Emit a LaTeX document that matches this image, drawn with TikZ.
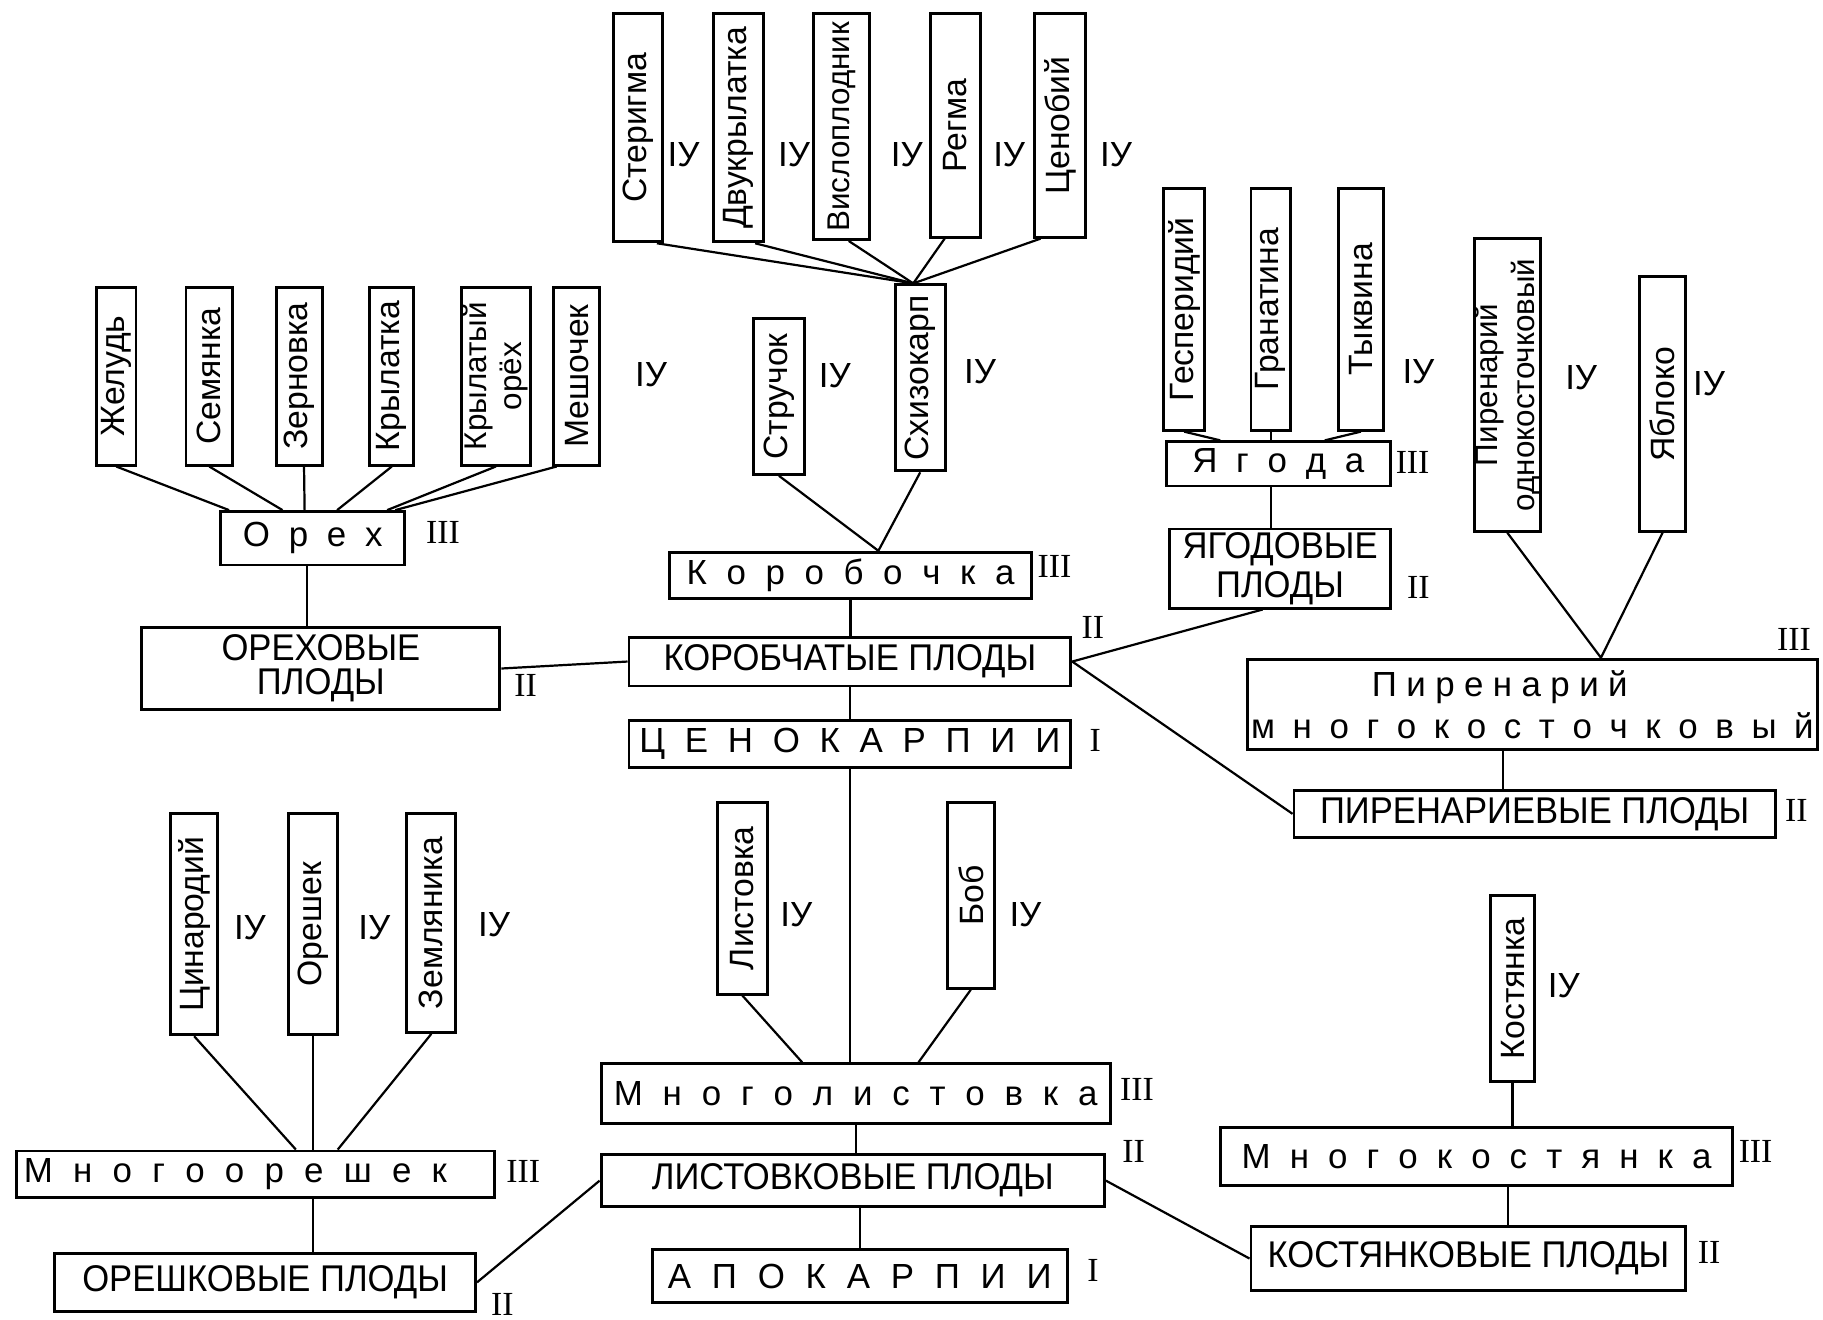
\documentclass[tikz,border=0pt]{standalone}
\usepackage{fontspec}
\setmainfont{Liberation Sans}
\newfontfamily\capsfont[FakeStretch=0.93]{Liberation Sans}
\newfontfamily\numfont{Liberation Serif}
\usetikzlibrary{calc}

% разрядка слова на заданную ширину
\newcommand\spreadword[2]{\makebox[#1]{\spreadfirst#2\relax}}
\def\spreadfirst#1{\ifx#1\relax\else#1\expandafter\spreadnext\fi}
\def\spreadnext#1{\ifx#1\relax\else\hfill#1\expandafter\spreadnext\fi}

\tikzset{
  box/.style 2 args={draw, line width=1.25pt, inner sep=0pt, minimum width=#1*0.5pt, minimum height=#2*0.5pt},
  vbox/.style 2 args={box={#1}{#2}, font=\fontsize{14.5}{14}\selectfont},
  hbox/.style 2 args={box={#1}{#2}, align=center, font=\fontsize{15}{17}\selectfont},
  capsbox/.style 2 args={box={#1}{#2}, align=center, font=\capsfont\fontsize{16}{17}\selectfont},
  levelnum/.style={inner sep=0pt, font=\numfont\fontsize{14.5}{14}\selectfont},
  ivnum/.style={inner sep=0pt, font=\fontsize{15}{15}\selectfont},
}

\begin{document}
\begin{tikzpicture}[x=0.5pt, y=-0.5pt, line width=0.95pt]
  \useasboundingbox[fill=white] (0,0) rectangle (1568,1135);

  % Ореховые плоды
  \node[vbox={34}{153}] (zhelud) at (100,323.5) {\rotatebox{90}{Желудь}};
  \node[vbox={40}{153}] (semyanka) at (180,323.5) {\rotatebox{90}{Семянка}};
  \node[vbox={39}{153}] (zernovka) at (257.5,323.5) {\rotatebox{90}{Зерновка}};
  \node[vbox={38}{153}] (krylatka) at (337,323.5) {\rotatebox{90}{Крылатка}};
  \node[vbox={59}{153}, font=\fontsize{13.5}{14}\selectfont] (krylor) at (426.5,323.5) {\rotatebox{90}{\shortstack{Крылатый\\орёх}}};
  \node[vbox={40}{153}] (meshok) at (496,323.5) {\rotatebox{90}{Мешочек}};
  \node[hbox={158}{46}] (oreh) at (269,463) {\spreadword{60pt}{Орех}};
  \node[capsbox={308}{70}, font=\capsfont\fontsize{16}{14.5}\selectfont] (orehovye) at (276,575) {ОРЕХОВЫЕ\\ПЛОДЫ};

  \draw (zhelud.south) -- ($(oreh.north)+(-72,0)$);
  \draw (semyanka.south) -- ($(oreh.north)+(-26,0)$);
  \draw ($(zernovka.south)+(4,0)$) -- ($(oreh.north)+(-7,0)$);
  \draw (krylatka.south) -- ($(oreh.north)+(21,0)$);
  \draw (krylor.south) -- ($(oreh.north)+(64,0)$);
  \draw ($(meshok.south west)+(4,0)$) -- ($(oreh.north)+(71,0)$);
  \coordinate (orehbot) at ($(oreh.south)+(-5,0)$);
  \draw (orehbot) -- (orehbot |- orehovye.north);

  % Коробчатые плоды
  \node[vbox={42}{196}] (ster) at (549,110) {\rotatebox{90}{Стеригма}};
  \node[vbox={43}{196}] (dvukr) at (635.5,110) {\rotatebox{90}{Двукрылатка}};
  \node[vbox={48}{194}, font=\fontsize{13.5}{14}\selectfont] (vislo) at (724,109) {\rotatebox{90}{Вислоплодник}};
  \node[vbox={43}{192}] (regma) at (821.5,108) {\rotatebox{90}{Регма}};
  \node[vbox={44}{192}] (cenob) at (912,108) {\rotatebox{90}{Ценобий}};
  \node[vbox={44}{134}] (struchok) at (670,341) {\rotatebox{90}{Стручок}};
  \node[vbox={43}{160}] (schizo) at (791.5,325) {\rotatebox{90}{Схизокарп}};
  \node[hbox={311}{40}] (korob) at (731.5,495) {\spreadword{141pt}{Коробочка}};
  \node[capsbox={380}{42}] (korobch) at (731,569) {КОРОБЧАТЫЕ ПЛОДЫ};
  \node[hbox={380}{40}] (cenokarp) at (731,640) {\spreadword{181pt}{ЦЕНОКАРПИИ}};

  \coordinate (schtop) at ($(schizo.north)+(-6,0)$);
  \draw ($(ster.south)+(16,0)$) -- (schtop);
  \draw ($(dvukr.south)+(14,0)$) -- (schtop);
  \draw ($(vislo.south)+(6,0)$) -- (schtop);
  \draw ($(regma.south)+(-9,0)$) -- (schtop);
  \draw ($(cenob.south)+(-17,0)$) -- (schtop);
  \draw (struchok.south) -- ($(korob.north)+(24,0)$);
  \draw (schizo.south) -- ($(korob.north)+(24,0)$);
  \draw (korob.south) -- (korob.south |- korobch.north);
  \draw (korobch.south) -- (korobch.south |- cenokarp.north);
  \draw (orehovye.east) -- (korobch.west);

  % Ягодовые плоды
  \node[vbox={35}{208}] (gesper) at (1018.5,266) {\rotatebox{90}{Гесперидий}};
  \node[vbox={34}{208}] (granat) at (1093,266) {\rotatebox{90}{Гранатина}};
  \node[vbox={39}{208}] (tykv) at (1170.5,266) {\rotatebox{90}{Тыквина}};
  \node[hbox={193}{38}] (yagoda) at (1099.5,399) {\spreadword{74pt}{Ягода}};
  \node[capsbox={190}{68}] (yagodovye) at (1101,489) {ЯГОДОВЫЕ\\ПЛОДЫ};

  \draw (gesper.south) -- ($(yagoda.north)+(-50,0)$);
  \draw (granat.south) -- (granat.south |- yagoda.north);
  \draw (tykv.south) -- ($(yagoda.north)+(40,0)$);
  \coordinate (yagodabot) at ($(yagoda.south)+(-6,0)$);
  \draw (yagodabot) -- (yagodabot |- yagodovye.north);
  \draw (korobch.east) -- ($(yagodovye.south)+(-15,0)$);

  % Пиренариевые плоды
  \node[vbox={57}{252}, font=\fontsize{13.5}{14}\selectfont] (pirodno) at (1296.5,331) {\rotatebox{90}{\shortstack{Пиренарий\\однокосточковый}}};
  \node[vbox={40}{219}] (yabloko) at (1430,347.5) {\rotatebox{90}{Яблоко}};
  \node[hbox={490}{78}, font=\fontsize{15}{18}\selectfont] (pirmnogo) at (1318,606)
    {\spreadword{110pt}{Пиренарий}\hspace*{28pt}\\\spreadword{242pt}{многокосточковый}};
  \node[capsbox={414}{40}] (pirenar) at (1320,700) {ПИРЕНАРИЕВЫЕ ПЛОДЫ};

  \draw (pirodno.south) -- ($(pirmnogo.north)+(59,0)$) -- (yabloko.south);
  \coordinate (pirbot) at ($(pirmnogo.south)+(-25,0)$);
  \draw (pirbot) -- (pirbot |- pirenar.north);
  \draw (korobch.east) -- (pirenar.west);

  % Орешковые плоды
  \node[vbox={40}{190}] (cinar) at (167,795) {\rotatebox{90}{Цинародий}};
  \node[vbox={42}{190}] (oreshek) at (269,795) {\rotatebox{90}{Орешек}};
  \node[vbox={42}{188}] (zemlyan) at (371,794) {\rotatebox{90}{Земляника}};
  \node[hbox={411}{40}] (mnogoor) at (219.5,1010) {\spreadword{182pt}{Многоорешек}\hspace*{17pt}};
  \node[capsbox={362}{50}] (oreshkovye) at (228,1103) {ОРЕШКОВЫЕ ПЛОДЫ};

  \draw (cinar.south) -- ($(mnogoor.north)+(35,0)$);
  \draw (oreshek.south) -- (oreshek.south |- mnogoor.north);
  \draw (zemlyan.south) -- ($(mnogoor.north)+(71,0)$);
  \draw (oreshek.south |- mnogoor.south) -- (oreshek.south |- oreshkovye.north);

  % Листовковые плоды
  \node[vbox={43}{165}] (listovka) at (638.5,772.5) {\rotatebox{90}{Листовка}};
  \node[vbox={40}{160}] (bob) at (835,770) {\rotatebox{90}{Боб}};
  \node[hbox={438}{51}] (mnogolist) at (736,940.5) {\spreadword{208pt}{Многолистовка}};
  \node[capsbox={433}{45}] (listovkovye) at (733.5,1015.5) {ЛИСТОВКОВЫЕ ПЛОДЫ};
  \node[hbox={357}{45}] (apokarp) at (739.5,1097.5) {\spreadword{165pt}{АПОКАРПИИ}};

  \draw (cenokarp.south) -- (cenokarp.south |- mnogolist.north);
  \draw (listovka.south) -- ($(mnogolist.north)+(-46,0)$);
  \draw (bob.south) -- ($(mnogolist.north)+(54,0)$);
  \draw (mnogolist.south) -- (mnogolist.south |- listovkovye.north);
  \coordinate (listbot) at ($(listovkovye.south)+(6,0)$);
  \draw (listbot) -- (listbot |- apokarp.north);
  \draw (oreshkovye.east) -- (listovkovye.west);

  % Костянковые плоды
  \node[vbox={38}{160}] (kostyanka) at (1301,850) {\rotatebox{90}{Костянка}};
  \node[hbox={440}{50}] (mnogokost) at (1270,995) {\spreadword{202pt}{Многокостянка}};
  \node[capsbox={374}{55}] (kostyankovye) at (1263,1082.5) {КОСТЯНКОВЫЕ ПЛОДЫ};

  \draw (kostyanka.south) -- (kostyanka.south |- mnogokost.north);
  \draw ($(kostyanka.south |- mnogokost.south)+(-4,0)$) -- ($(kostyanka.south |- kostyankovye.north)+(-4,0)$);
  \draw (listovkovye.east) -- (kostyankovye.west);

  % Уровни
  \node[ivnum] (iv-ster) at (588,133) {IУ};
  \node[ivnum] (iv-dvukr) at (683,133) {IУ};
  \node[ivnum] (iv-vislo) at (780,133) {IУ};
  \node[ivnum] (iv-regma) at (868,133) {IУ};
  \node[ivnum] (iv-cenob) at (960,133) {IУ};
  \node[ivnum] (iv-struchok) at (718,323) {IУ};
  \node[ivnum] (iv-schizo) at (843,320) {IУ};
  \node[ivnum] (iv-oreh) at (560,322) {IУ};
  \node[ivnum] (iv-yagoda) at (1220,320) {IУ};
  \node[ivnum] (iv-pirodno) at (1360,325) {IУ};
  \node[ivnum] (iv-yabloko) at (1470,330) {IУ};
  \node[ivnum] (iv-cinar) at (215,798) {IУ};
  \node[ivnum] (iv-oreshek) at (322,798) {IУ};
  \node[ivnum] (iv-zemlyan) at (425,795) {IУ};
  \node[ivnum] (iv-listovka) at (685,787) {IУ};
  \node[ivnum] (iv-bob) at (882,787) {IУ};
  \node[ivnum] (iv-kostyanka) at (1345,848) {IУ};

  \node[levelnum] (l-oreh) at (381,458) {III};
  \node[levelnum] (l-orehovye) at (452,590) {II};
  \node[levelnum] (l-korob) at (907,487) {III};
  \node[levelnum] (l-korobch) at (940,540) {II};
  \node[levelnum] (l-cenokarp) at (942,637) {I};
  \node[levelnum] (l-yagoda) at (1215,398) {III};
  \node[levelnum] (l-yagodovye) at (1220,505) {II};
  \node[levelnum] (l-pirmnogo) at (1543,550) {III};
  \node[levelnum] (l-pirenar) at (1545,697) {II};
  \node[levelnum] (l-mnogoor) at (450,1008) {III};
  \node[levelnum] (l-oreshkovye) at (432,1122) {II};
  \node[levelnum] (l-mnogolist) at (978,937) {III};
  \node[levelnum] (l-listovkovye) at (975,990) {II};
  \node[levelnum] (l-apokarp) at (940,1093) {I};
  \node[levelnum] (l-mnogokost) at (1510,990) {III};
  \node[levelnum] (l-kostyankovye) at (1470,1077) {II};
\end{tikzpicture}
\end{document}
